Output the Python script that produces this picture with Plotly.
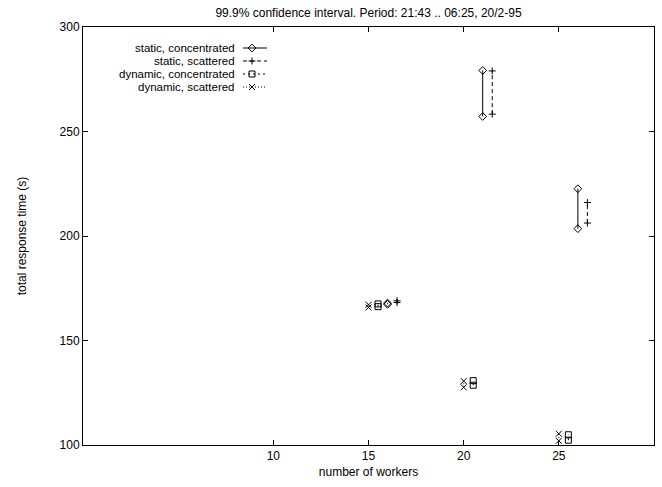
import plotly.graph_objects as go

# ---- data ----
workers = [15, 20, 25]
series_names = ["static, concentrated", "static, scattered",
                "dynamic, concentrated", "dynamic, scattered"]
series_offsets = [1.0, 1.5, 0.5, 0.0]
static_conc_low = [167.3, 257.2, 203.5]
static_conc_high = [167.9, 279.2, 222.6]
static_scat_low = [168.2, 258.3, 206.2]
static_scat_high = [169.0, 279.0, 216.0]
dyn_conc_low = [166.2, 128.6, 102.3]
dyn_conc_high = [167.5, 130.8, 104.9]
dyn_scat_low = [165.8, 127.6, 102.0]
dyn_scat_high = [167.1, 130.6, 105.4]

lows = [static_conc_low, static_scat_low, dyn_conc_low, dyn_scat_low]
highs = [static_conc_high, static_scat_high, dyn_conc_high, dyn_scat_high]

symbols = ["diamond-open", "cross-thin-open", "square-open", "x-thin-open"]
dashes = ["solid", "4px,3px", "2px,3px", "1px,2px"]
sizes = [6, 5, 6, 6]

FONT = "Liberation Sans, Arial, sans-serif"

fig = go.Figure()
for name, off, lo, hi, sym, dash, sz in zip(series_names, series_offsets, lows, highs,
                                           symbols, dashes, sizes):
    xs, ys = [], []
    for w, l, h in zip(workers, lo, hi):
        xs += [w + off, w + off, None]
        ys += [l, h, None]
    fig.add_trace(go.Scatter(
        x=xs, y=ys, mode="lines+markers", name=name, showlegend=False,
        line=dict(color="black", width=1, dash=dash),
        marker=dict(symbol=sym, size=sz, color="black",
                    line=dict(color="black", width=1)),
        connectgaps=False,
    ))

# ---- custom legend (text left, sample right, gnuplot style) on pixel overlay axes ----
leg_rows = [48, 61, 74, 87]
for name, yrow, sym, dash, sz in zip(series_names, leg_rows, symbols, dashes, sizes):
    fig.add_trace(go.Scatter(
        x=[243, 267], y=[yrow, yrow], mode="lines", xaxis="x2", yaxis="y2",
        showlegend=False, hoverinfo="skip",
        line=dict(color="black", width=1, dash=dash)))
    fig.add_trace(go.Scatter(
        x=[252], y=[yrow], mode="markers", xaxis="x2", yaxis="y2",
        showlegend=False, hoverinfo="skip",
        marker=dict(symbol=sym, size=sz, color="black",
                    line=dict(color="black", width=1))))
    fig.add_annotation(x=236, y=yrow, xref="x2", yref="y2", text=name,
                       showarrow=False, xanchor="right", yanchor="middle",
                       borderpad=0,
                       font=dict(family=FONT, size=11.5, color="black"))

fig.update_layout(
    width=662, height=487,
    margin=dict(l=83, r=8, t=27, b=42),
    paper_bgcolor="white", plot_bgcolor="white",
    font=dict(family=FONT, size=12, color="black"),
    title=dict(text="99.9% confidence interval. Period: 21:43 .. 06:25, 20/2-95",
               x=(83 + 654) / 2 / 662, xanchor="center", y=1 - 13 / 487,
               yanchor="middle", font=dict(family=FONT, size=12, color="black")),
    xaxis=dict(range=[0, 30], tickvals=[10, 15, 20, 25], ticks="inside",
               ticklen=5, tickcolor="black", showline=True, linecolor="black",
               linewidth=1, mirror="ticks", showgrid=False, zeroline=False,
               title=dict(text="number of workers", standoff=5,
                          font=dict(family=FONT, size=12, color="black")),
               tickfont=dict(size=12)),
    yaxis=dict(range=[100, 300], tickvals=[100, 150, 200, 250, 300],
               ticks="inside", ticklen=5, tickcolor="black", showline=True,
               linecolor="black", linewidth=1, mirror="ticks", showgrid=False,
               zeroline=False,
               title=dict(text="total response time (s)", standoff=30,
                          font=dict(family=FONT, size=12, color="black")),
               tickfont=dict(size=12)),
    xaxis2=dict(range=[83, 654], overlaying="x", visible=False, fixedrange=True),
    yaxis2=dict(range=[445, 27], overlaying="y", visible=False, fixedrange=True),
)

fig.write_html("out.html")
